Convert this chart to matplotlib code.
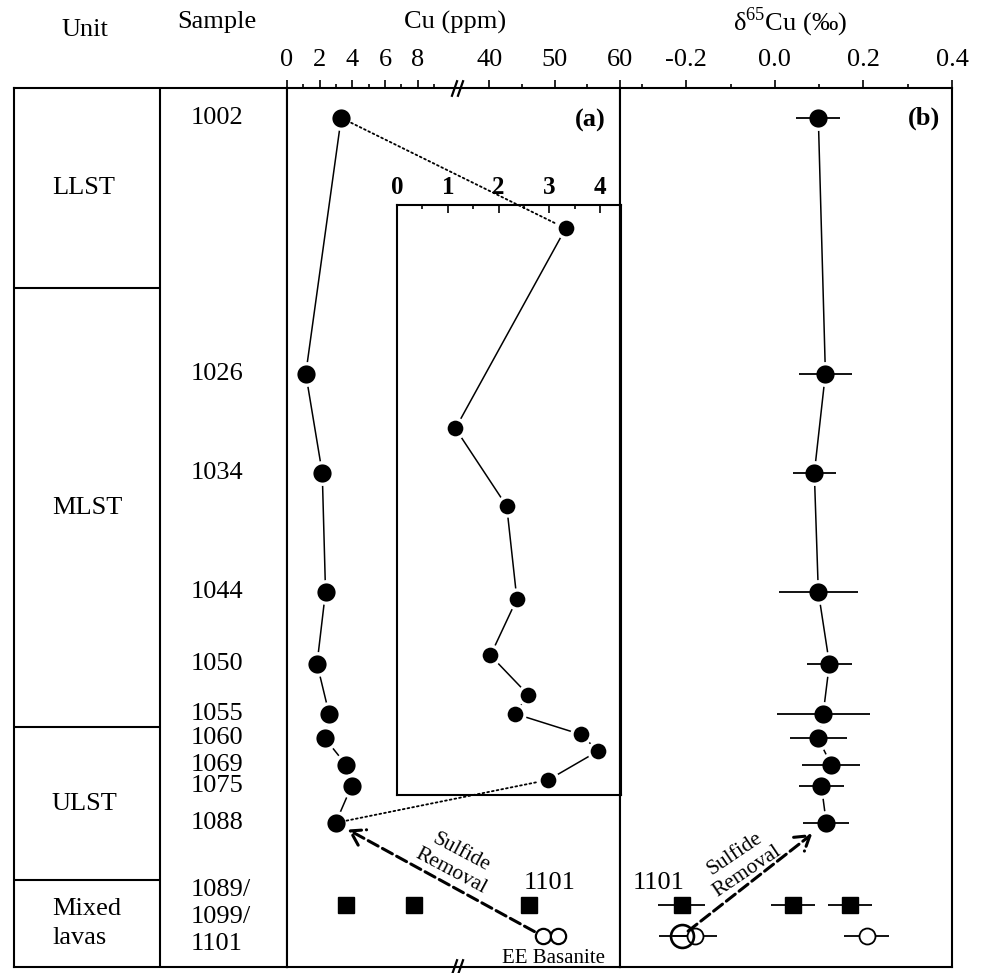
import numpy as np
import matplotlib
matplotlib.use('Agg')
import matplotlib.pyplot as plt
from matplotlib.patches import ConnectionPatch
import matplotlib.transforms as mtransforms

plt.rcParams['font.family'] = ['Liberation Serif', 'DejaVu Serif']
plt.rcParams['mathtext.fontset'] = 'custom'
plt.rcParams['mathtext.rm'] = 'Liberation Serif'
plt.rcParams['axes.unicode_minus'] = False

# ---- data ----
samples = ['1002', '1026', '1034', '1044', '1050', '1055', '1060', '1069', '1075', '1088']
pos = [3.4, 32.5, 43.8, 57.3, 65.5, 71.2, 74.0, 77.0, 79.4, 83.6]   # relative stratigraphic position
cu = [3.32, 1.15, 2.16, 2.36, 1.84, 2.58, 2.33, 3.62, 3.96, 2.98]
d65 = [0.098, 0.114, 0.089, 0.098, 0.123, 0.109, 0.098, 0.127, 0.105, 0.116]
d65_err = [0.05, 0.059, 0.048, 0.089, 0.05, 0.105, 0.065, 0.065, 0.05, 0.052]

mixed_label = '1089/\n1099/\n1101'
mixed_pos = 92.95
mixed_cu = [3.62, 7.8, 46.1]
mixed_d65 = [0.17, 0.041, -0.211]
mixed_err = [0.05, 0.05, 0.053]

ee_pos = 96.5
ee_cu = [48.2, 50.5]
ee_d65 = [-0.211, -0.18, 0.207]
ee_err = [0.05, 0.05, 0.05]

units = ['LLST', 'MLST', 'ULST', 'Mixed\nlavas']
unit_bounds = [0, 22.8, 72.7, 90.1, 100]

# broken Cu axis: 0-10.4 then 35-60
BRK_LO, BRK_HI, RATIO = 10.4, 35.0, 0.4

def fwd(x):
    x = np.asarray(x, dtype=float)
    return np.where(x <= BRK_LO, x, np.where(x >= BRK_HI, BRK_LO + (x - BRK_HI) * RATIO, BRK_LO))

def inv(t):
    t = np.asarray(t, dtype=float)
    return np.where(t <= BRK_LO, t, BRK_HI + (t - BRK_LO) / RATIO)

W, H = 984., 973.
def box(x0, y0, x1, y1):
    return [x0 / W, 1 - y1 / H, (x1 - x0) / W, (y1 - y0) / H]

fig = plt.figure(figsize=(9.84, 9.73), dpi=100)
ax_t = fig.add_axes(box(14, 88, 287, 967))
ax_a = fig.add_axes(box(287, 88, 620, 967))
ax_b = fig.add_axes(box(620, 88, 952, 967))
ax_in = fig.add_axes(box(397, 205, 621, 795))

FS = 19
LW = 1.5
for ax in [ax_t, ax_a, ax_b, ax_in]:
    ax.set_ylim(100, 0)
    ax.set_yticks([])
    for s in ax.spines.values():
        s.set_linewidth(LW)
ax_in.set_ylim(85.8, 0)
ax_in.patch.set_alpha(0)

# ---- unit / sample table ----
ax_t.set_xlim(0, 1)
ax_t.set_xticks([])
ax_t.axvline(0.535, color='k', lw=LW)
ax_t.hlines(unit_bounds[1:-1], 0, 0.535, color='k', lw=LW)
for i, u in enumerate(units):
    ax_t.text(0.139, (unit_bounds[i] + unit_bounds[i + 1]) / 2, u, fontsize=FS,
              ha='left', va='center', linespacing=1.4)
for s, p in zip(samples, pos):
    ax_t.text(0.648, p, s, fontsize=FS, ha='left', va='center')
ax_t.text(0.648, 94.3, mixed_label, fontsize=FS, ha='left', va='center', linespacing=1.3)

# ---- panel (a) ----
ax_a.set_xscale('function', functions=(fwd, inv))
ax_a.set_xlim(0, 60)
ax_a.xaxis.tick_top()
ax_a.set_xticks([0, 2, 4, 6, 8, 40, 50, 60])
ax_a.set_xticks([1, 3, 5, 7, 9, 45, 55], minor=True)
ax_a.set_xticklabels(['0', '2', '4', '6', '8', '40', '50', '60'])
ax_a.plot(cu, pos, '-', color='k', lw=1.1, zorder=2)
ax_a.plot(cu, pos, 'o', ms=15.5, mfc='k', mec='white', mew=2.4, zorder=3)
ax_a.plot(mixed_cu, [mixed_pos] * 3, 's', ms=11.5, mfc='k', mec='k', zorder=3)
ax_a.plot(ee_cu, [ee_pos] * 2, 'o', ms=11, mfc='white', mec='k', mew=1.6, zorder=3)
ax_a.annotate('1101', xy=(mixed_cu[2], mixed_pos), xytext=(15, 16), textcoords='offset points',
              fontsize=FS, ha='center', va='center')
ax_a.annotate('EE Basanite', xy=(np.mean(ee_cu), ee_pos), xytext=(2, -16), textcoords='offset points',
              fontsize=15, ha='center', va='center')
ax_a.text(0.958, 0.9636, '(a)', transform=ax_a.transAxes, fontsize=FS, fontweight='bold',
          ha='right', va='center')
ax_a.annotate('', xy=(cu[-1], pos[-1]), xytext=(ee_cu[0], ee_pos),
              arrowprops=dict(arrowstyle='->, head_length=0.55, head_width=0.35', lw=2.2,
                              ls='--', color='k', shrinkA=7, shrinkB=10, mutation_scale=18))
ax_a.text(0.508, 0.119, 'Sulfide\nRemoval', transform=ax_a.transAxes, fontsize=15.5,
          rotation=-28, rotation_mode='anchor', ha='center', va='center', linespacing=1.15)
# break marks "//" on top and bottom spines
brk = mtransforms.blended_transform_factory(ax_a.transData, ax_a.transAxes)
slash = [(-0.35, -1), (0.35, 1)]
for dx in [-3, 3]:
    tr = mtransforms.offset_copy(brk, fig=fig, x=dx, y=0, units='dots')
    ax_a.plot([BRK_LO, BRK_LO], [0.0, 1.0], transform=tr, ls='none', marker=slash,
              ms=12, mew=1.6, color='k', clip_on=False, zorder=5)

# ---- inset ----
ax_in.set_xlim(0, 4.41)
ax_in.xaxis.tick_top()
ax_in.set_xticks([0, 1, 2, 3, 4])
ax_in.set_xticks([0.5, 1.5, 2.5, 3.5], minor=True)
ax_in.set_xticklabels(['0', '1', '2', '3', '4'], fontweight='bold')
ax_in.plot(cu, pos, '-', color='k', lw=1.1, zorder=2)
ax_in.plot(cu, pos, 'o', ms=13.7, mfc='k', mec='white', mew=2.4, zorder=3)
ax_in.tick_params(axis='x', which='major', direction='in', length=6, width=1.2, labelsize=18, pad=4)
ax_in.tick_params(axis='x', which='minor', direction='in', length=3, width=1.2)

for i in [0, -1]:
    con = ConnectionPatch(xyA=(cu[i], pos[i]), coordsA=ax_a.transData,
                          xyB=(cu[i], pos[i]), coordsB=ax_in.transData,
                          ls=':', lw=1.3, color='k', shrinkA=8, shrinkB=7, zorder=1)
    ax_in.add_artist(con)

# ---- panel (b) ----
ax_b.set_xlim(-0.35, 0.4)
ax_b.xaxis.tick_top()
ax_b.set_xticks([-0.2, 0.0, 0.2, 0.4])
ax_b.set_xticks([-0.3, -0.1, 0.1, 0.3], minor=True)
ax_b.set_xticklabels(['-0.2', '0.0', '0.2', '0.4'])
ax_b.plot(d65, pos, '-', color='k', lw=1.1, zorder=2)
ax_b.plot(d65, pos, 'o', ms=15.5, mfc='k', mec='white', mew=2.4, zorder=3)
ax_b.errorbar(d65, pos, xerr=d65_err, fmt='none', ecolor='k', elinewidth=1.3, capsize=0, zorder=4)
ax_b.errorbar(mixed_d65, [mixed_pos] * 3, xerr=mixed_err, fmt='s', ms=11.5, mfc='k', mec='k',
              ecolor='k', elinewidth=1.3, capsize=0, zorder=3)
ax_b.errorbar(ee_d65, [ee_pos] * 3, xerr=ee_err, fmt='none', ecolor='k', elinewidth=1.3,
              capsize=0, zorder=3)
ax_b.plot(ee_d65[0], ee_pos, 'o', ms=16.5, mfc='none', mec='k', mew=1.9, zorder=4)
ax_b.plot(ee_d65[1:], [ee_pos] * 2, 'o', ms=11.5, mfc='white', mec='k', mew=1.3, zorder=3.5)
ax_b.annotate('1101', xy=(mixed_d65[2], mixed_pos), xytext=(-16.5, 16), textcoords='offset points',
              fontsize=FS, ha='center', va='center')
ax_b.text(0.964, 0.966, '(b)', transform=ax_b.transAxes, fontsize=FS, fontweight='bold',
          ha='right', va='center')
ax_b.annotate('', xy=(d65[-1], pos[-1]), xytext=(ee_d65[0], ee_pos),
              arrowprops=dict(arrowstyle='->, head_length=0.55, head_width=0.35', lw=2.2,
                              ls='--', color='k', shrinkA=6, shrinkB=13, mutation_scale=18))
ax_b.text(0.364, 0.119, 'Sulfide\nRemoval', transform=ax_b.transAxes, fontsize=15.5,
          rotation=34, rotation_mode='anchor', ha='center', va='center', linespacing=1.15)

for ax in [ax_a, ax_b]:
    ax.tick_params(axis='x', which='major', direction='out', length=6, width=1.2, labelsize=FS, pad=6)
    ax.tick_params(axis='x', which='minor', direction='out', length=3, width=1.2)

# ---- headers ----
fig.text(85 / W, 1 - 30 / H, 'Unit', fontsize=FS, ha='center', va='center')
fig.text(217 / W, 1 - 22 / H, 'Sample', fontsize=FS, ha='center', va='center')
fig.text(455 / W, 1 - 22 / H, 'Cu (ppm)', fontsize=FS, ha='center', va='center')
fig.text(790 / W, 1 - 22 / H, 'δ$^{65}$Cu (‰)', fontsize=FS, ha='center', va='center')

fig.savefig('out.png', dpi=100)
